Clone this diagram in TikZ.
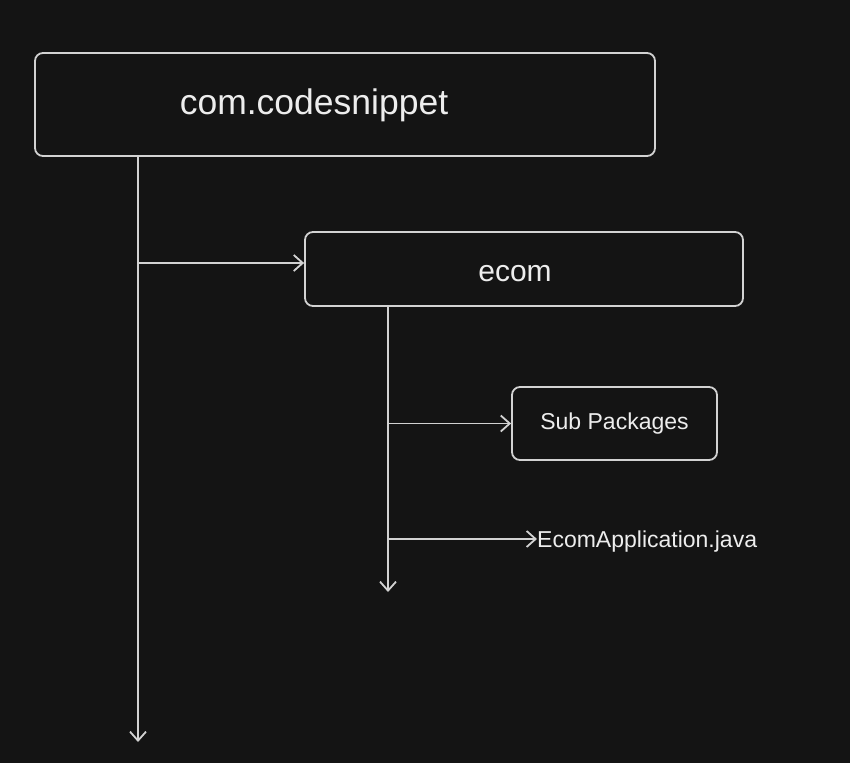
\documentclass[tikz,border=0pt]{standalone}
\usepackage{fontspec}
\setmainfont{Liberation Sans}
\usetikzlibrary{arrows.meta}
\definecolor{canvas}{HTML}{141414}
\definecolor{ink}{HTML}{D2D2D2}
\definecolor{paper}{HTML}{EDEDED}
\tikzstyle{package} = [rectangle, rounded corners=8pt, draw=ink, line width=1.8pt, text=paper, inner sep=0pt]
\tikzstyle{file} = [text=paper, inner sep=0pt, font=\fontsize{23}{28}\selectfont]
\tikzstyle{arrow} = [draw=ink, line width=1.8pt, -{Straight Barb[length=9pt,width=16pt,line width=1.8pt]}]

\begin{document}
\begin{tikzpicture}[x=1pt, y=-1pt]
  \fill[canvas] (0,0) rectangle (850,763);

  \node (root) [package, minimum width=620pt, minimum height=103pt] at (345,104.5) {};
  \node (root label) [file, font=\fontsize{35.5}{40}\selectfont] at (314,105) {com.codesnippet};
  \node (ecom) [package, minimum width=438pt, minimum height=74pt, font=\fontsize{30}{36}\selectfont] at (524,269) {\hspace*{-18pt}\raisebox{-12pt}[0pt][0pt]{ecom}};
  \node (sub pkg) [package, minimum width=205pt, minimum height=73pt, font=\fontsize{23}{28}\selectfont] at (614.5,423.5) {Sub Packages};
  \node (main file) [file, anchor=west] at (537,542) {EcomApplication.java};

  \coordinate (root end) at (138,742);
  \coordinate (ecom end) at (388,592);

  % trunks
  \draw[arrow] (root.south -| root end) -- (root end);
  \draw[arrow] (ecom.south -| ecom end) -- (ecom end);
  % branches
  \draw[arrow] ([yshift=6pt]ecom.west -| root end) -- ([yshift=6pt]ecom.west);
  \draw[arrow] (sub pkg.west -| ecom end) -- (sub pkg.west);
  \draw[arrow] ([yshift=3pt]main file.west -| ecom end) -- ([yshift=3pt]main file.west);
\end{tikzpicture}
\end{document}
